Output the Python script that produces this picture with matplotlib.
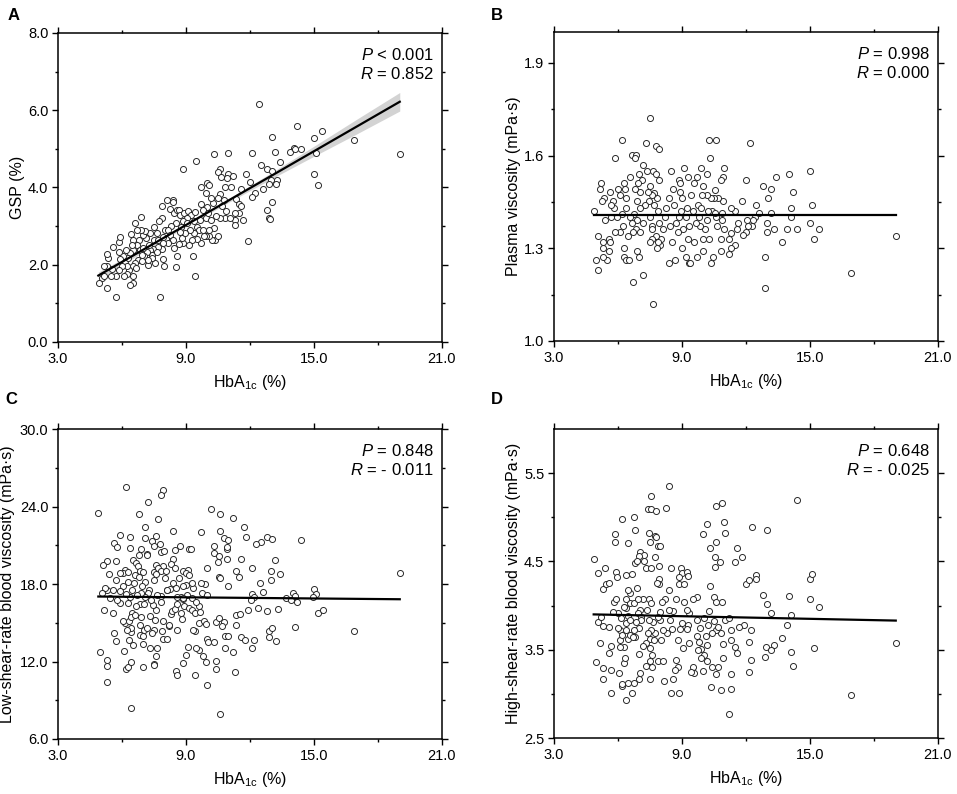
import matplotlib
matplotlib.use("Agg")
import matplotlib.pyplot as plt
import numpy as np

plt.rcParams['font.family'] = ['Liberation Sans', 'DejaVu Sans']
plt.rcParams['mathtext.fontset'] = 'custom'
plt.rcParams['mathtext.rm'] = 'Liberation Sans'
plt.rcParams['mathtext.it'] = 'Liberation Sans:italic'

# ---------------- Panel A: GSP vs HbA1c ----------------
a_x = [12.40, 14.19, 15.39, 13.01, 15.0, 16.89, 19.02, 15.10, 14.05, 13.87, 14.41, 14.1, 13.19, 13.40,
       15.0, 15.21, 12.10, 10.99, 10.29, 9.49, 8.88, 10.59, 10.52, 10.98, 11.18, 11.79, 12.51, 12.80,
       13.01, 12.97, 13.27, 13.21, 12.91, 12.62, 12.23, 12.1, 11.98, 13.01, 12.8, 12.9, 12.92, 11.9,
       11.6, 11.35, 11.47, 11.58, 11.69, 11.49, 11.30, 11.30, 11.1, 10.82, 10.9, 10.64, 10.59, 10.68,
       10.87, 10.85, 10.59, 10.4, 10.27, 10.29, 10.38, 10.21, 10.49, 10.06, 9.92, 9.70, 9.68, 9.70,
       9.99, 10.09, 9.93, 9.98, 9.79, 9.92, 9.65, 9.52, 9.6, 9.81, 9.37, 9.52, 9.3, 9.31, 9.42, 9.14,
       8.88, 8.79, 8.65, 8.59, 8.51, 8.46, 7.79, 7.98, 7.92, 7.57, 7.86, 7.68, 7.51, 7.32, 7.2, 8.01,
       7.87, 7.87, 8.09, 8.38, 8.40, 8.26, 8.46, 8.56, 8.68, 8.73, 8.9, 9.1, 9.24, 9.42, 9.04, 8.84,
       9.03, 8.78, 8.54, 8.32, 8.17, 8.25, 8.07, 7.9, 7.62, 7.71, 7.49, 7.75, 7.46, 7.31, 7.39, 7.16,
       7.04, 7.28, 7.12, 7.0, 7.1, 6.89, 6.89, 6.79, 6.68, 6.84, 6.92, 6.76, 6.93, 6.61, 6.53, 6.40,
       6.5, 6.45, 6.37, 6.29, 6.5, 6.34, 6.65, 6.5, 6.5, 6.39, 6.18, 6.06, 6.12, 6.23, 6.22, 6.09,
       5.9, 5.98, 5.84, 5.87, 5.89, 5.59, 5.72, 5.72, 5.54, 5.36, 5.28, 5.28, 5.31, 5.15, 5.05, 4.92,
       5.47, 5.17, 5.87, 6.70, 6.61, 11.06, 11.28, 10.77, 10.52, 10.16, 10.03, 10.19, 10.1, 9.85,
       9.37, 9.21, 8.95, 8.71, 8.40, 8.17, 7.93, 7.62, 7.39, 7.23, 7.0]
a_y = [6.15, 5.60, 5.46, 5.32, 5.28, 5.23, 4.88, 4.90, 5.02, 4.91, 4.99, 5.0, 4.92, 4.66,
       4.36, 4.07, 4.89, 4.89, 4.88, 4.69, 4.47, 4.48, 4.41, 4.36, 4.30, 4.36, 4.59, 4.47,
       4.44, 4.20, 4.20, 4.10, 4.09, 3.95, 3.87, 3.76, 4.13, 3.63, 3.41, 3.21, 3.19, 2.62,
       3.97, 3.71, 3.57, 3.51, 3.16, 3.34, 3.16, 3.03, 4.0, 4.0, 4.24, 4.26, 3.83, 3.53,
       3.40, 3.21, 3.21, 3.25, 3.59, 2.95, 2.63, 2.63, 2.74, 2.74, 2.74, 2.56, 3.58, 4.0,
       4.11, 4.06, 3.87, 3.49, 3.41, 3.21, 3.16, 2.99, 2.91, 2.91, 2.82, 2.67, 2.65, 2.22, 1.71, 2.51,
       2.56, 2.69, 2.53, 2.23, 1.94, 2.43, 1.16, 1.97, 2.15, 2.04, 2.42, 2.47, 2.65, 2.82, 1.99, 2.91,
       3.22, 3.53, 3.68, 3.68, 3.62, 3.44, 3.34, 3.42, 3.42, 3.28, 3.34, 3.38, 3.29, 3.36, 3.21, 3.12,
       3.08, 2.99, 3.09, 3.01, 2.91, 2.78, 2.66, 2.71, 2.82, 2.65, 2.99, 3.14, 2.42, 2.37, 2.26, 2.32,
       2.22, 2.52, 2.69, 2.78, 2.88, 2.89, 3.23, 2.65, 2.52, 2.39, 2.26, 2.13, 2.09, 2.04, 2.39, 2.79,
       2.65, 2.52, 2.30, 2.17, 1.96, 1.87, 1.91, 1.70, 1.54, 1.48, 2.39, 2.22, 2.04, 1.96, 1.76, 1.72,
       2.16, 1.96, 1.86, 2.60, 2.71, 2.47, 1.16, 1.72, 1.89, 2.17, 2.28, 1.41, 1.96, 1.96, 1.66, 1.54,
       1.72, 1.72, 2.32, 2.91, 3.08, 3.21, 3.34, 3.68, 3.74, 3.72, 3.34, 3.16, 2.91, 2.75,
       3.12, 2.91, 2.82, 2.86, 2.65, 2.56, 2.56, 2.32, 2.17, 2.13, 2.43]
a_fit_x = [4.89, 19.02]
a_fit_y = [1.72, 6.22]
a_ci_x = [4.89, 7.0, 9.0, 11.0, 13.0, 15.0, 17.0, 19.02]
a_ci_half = [0.09, 0.06, 0.045, 0.05, 0.08, 0.13, 0.19, 0.24]

# ---------------- Panel B: plasma viscosity ----------------
b_x = [7.49, 6.17, 7.30, 7.80, 7.91, 5.88, 6.66, 6.86, 6.79, 10.27, 10.59, 12.20, 10.29, 7.18, 7.38,
       7.66, 7.79, 7.91, 8.49, 9.10, 9.88, 10.99, 10.16, 9.72, 9.29, 8.86, 8.90, 9.58, 9.99, 10.93,
       10.85, 11.98, 14.0, 14.99, 13.40, 12.79, 13.18, 13.01, 14.2, 15.09, 14.09, 11.79, 12.49, 14.12,
       19.02, 16.9, 12.88, 12.90, 13.70, 13.90, 14.40, 13.29, 13.0, 13.0, 13.18, 14.99, 15.21, 15.40,
       12.43, 12.63, 12.34, 12.27, 12.09, 12.07, 12.02, 11.88, 11.63, 11.59, 11.30, 11.49, 11.30, 11.18,
       11.49, 11.30, 11.18, 10.96, 10.87, 10.84, 10.81, 10.89, 10.90, 10.71, 10.54, 10.52, 10.41, 10.59,
       10.63, 10.54, 10.46, 10.37, 10.36, 10.22, 10.19, 10.28, 10.15, 9.95, 10.10, 9.99, 9.99, 9.84,
       9.76, 9.88, 9.82, 9.66, 9.70, 9.58, 9.52, 9.40, 9.35, 9.23, 9.19, 9.30, 9.32, 9.38, 9.21, 9.06,
       8.99, 8.90, 8.99, 8.93, 8.85, 8.82, 8.74, 8.69, 8.61, 8.60, 8.46, 8.51, 8.38, 8.41, 8.27, 8.19,
       8.13, 8.01, 7.99, 7.86, 7.83, 7.80, 7.93, 7.86, 7.83, 7.68, 7.68, 7.60, 7.51, 7.44, 7.40, 7.52,
       7.58, 7.60, 7.51, 7.58, 7.63, 7.19, 6.68, 7.19, 7.27, 7.05, 7.02, 7.00, 7.11, 6.93, 6.78, 6.58,
       6.89, 6.91, 6.77, 6.84, 6.70, 7.05, 6.91, 7.0, 6.65, 6.55, 6.48, 6.38, 6.36, 6.30, 6.34, 6.27,
       6.30, 6.39, 6.50, 6.24, 6.17, 6.08, 6.11, 5.99, 5.94, 5.88, 5.83, 5.77, 5.68, 5.68, 5.60, 5.61,
       5.50, 5.58, 5.64, 5.41, 5.36, 5.27, 5.30, 5.30, 5.28, 5.18, 5.17, 5.08, 5.08, 4.99, 4.88]
b_y = [1.722, 1.651, 1.641, 1.632, 1.621, 1.591, 1.602, 1.602, 1.591, 1.651, 1.651, 1.641, 1.591, 1.571, 1.551,
       1.551, 1.542, 1.521, 1.551, 1.561, 1.561, 1.561, 1.542, 1.532, 1.532, 1.521, 1.511, 1.511, 1.502, 1.532,
       1.521, 1.521, 1.542, 1.551, 1.532, 1.502, 1.492, 1.462, 1.481, 1.441, 1.432, 1.452, 1.441, 1.401,
       1.340, 1.221, 1.170, 1.272, 1.322, 1.361, 1.361, 1.361, 1.352, 1.382, 1.414, 1.382, 1.331, 1.361,
       1.401, 1.414, 1.392, 1.371, 1.371, 1.392, 1.352, 1.342, 1.382, 1.361, 1.350, 1.422, 1.432, 1.331,
       1.312, 1.301, 1.282, 1.361, 1.392, 1.331, 1.291, 1.414, 1.452, 1.462, 1.490, 1.462, 1.422, 1.401,
       1.371, 1.414, 1.272, 1.251, 1.462, 1.422, 1.392, 1.331, 1.472, 1.472, 1.361, 1.291, 1.331, 1.371,
       1.441, 1.432, 1.401, 1.382, 1.271, 1.322, 1.422, 1.472, 1.371, 1.432, 1.401, 1.331, 1.251, 1.251, 1.271, 1.361,
       1.301, 1.481, 1.462, 1.422, 1.401, 1.352, 1.382, 1.261, 1.441, 1.492, 1.371, 1.322, 1.251, 1.462, 1.432, 1.401,
       1.361, 1.331, 1.312, 1.322, 1.301, 1.341, 1.382, 1.422, 1.462, 1.441, 1.479, 1.472, 1.502, 1.452, 1.481, 1.401,
       1.371, 1.331, 1.322, 1.361, 1.121, 1.212, 1.191, 1.382, 1.441, 1.432, 1.481, 1.542, 1.521, 1.511, 1.492, 1.532,
       1.452, 1.392, 1.411, 1.361, 1.352, 1.352, 1.291, 1.271, 1.382, 1.401, 1.341, 1.432, 1.462, 1.511, 1.492, 1.301,
       1.272, 1.261, 1.261, 1.371, 1.411, 1.352, 1.472, 1.492, 1.401, 1.352, 1.432, 1.452, 1.441, 1.401, 1.331, 1.481,
       1.261, 1.291, 1.322, 1.392, 1.462, 1.452, 1.301, 1.271, 1.322, 1.511, 1.492, 1.341, 1.231, 1.261, 1.422]
b_fit_x = [4.88, 19.02]
b_fit_y = [1.407, 1.407]

# ---------------- Panel C: low-shear-rate blood viscosity ----------------
c_x = [6.18, 7.90, 7.81, 7.20, 4.89, 6.81, 7.70, 10.18, 10.59, 11.20, 7.10, 8.39, 9.70, 10.59, 11.70,
       5.90, 6.39, 7.08, 7.58, 7.41, 10.77, 10.98, 11.81, 12.79, 13.01, 12.51, 12.29, 14.41, 5.61, 5.78,
       6.39, 6.90, 7.50, 7.80, 8.70, 9.15, 9.22, 10.29, 8.48, 7.84, 7.95, 10.29, 10.91, 10.91, 10.56,
       10.92, 11.60, 10.51, 7.18, 6.78, 7.18, 6.50, 5.70, 5.29, 5.09, 6.67, 6.73, 7.58, 7.90, 8.39,
       8.29, 8.49, 6.86, 7.0, 7.50, 6.14, 6.03, 6.28, 5.89, 5.39, 6.59, 6.78, 7.71, 7.82, 8.04, 8.01,
       7.60, 7.50, 8.84, 9.09, 9.01, 9.14, 8.65, 8.40, 8.10, 9.99, 10.57, 10.59, 10.99, 11.34, 11.50,
       12.09, 12.49, 12.99, 12.99, 13.19, 13.40, 12.60, 12.10, 12.21, 12.04, 12.38, 11.90, 12.79, 13.30,
       13.68, 13.93, 14.02, 14.13, 14.19, 14.11, 15.00, 15.08, 14.96, 15.21, 15.40, 16.89, 19.02, 4.99,
       5.29, 5.29, 5.29, 6.40, 10.59, 5.17, 5.59, 5.61, 5.70, 6.09, 6.17, 6.29, 6.40, 7.0, 7.48, 7.51,
       7.60, 7.62, 7.32, 7.0, 6.50, 6.31, 6.83, 6.99, 7.51, 7.40, 6.40, 6.40, 6.23, 6.12, 6.07, 6.34,
       6.45, 6.40, 6.62, 6.90, 7.01, 6.84, 7.18, 7.29, 7.56, 7.61, 7.43, 7.84, 7.90, 7.87, 7.93, 8.09,
       8.20, 8.21, 8.28, 8.36, 8.49, 8.57, 8.56, 8.51, 8.59, 8.88, 9.0, 9.10, 8.81, 8.78, 8.92, 8.88,
       8.76, 9.03, 9.26, 9.13, 9.28, 9.41, 9.59, 9.65, 9.45, 9.42, 9.61, 9.84, 9.92, 9.99, 10.01, 10.31,
       10.42, 10.54, 10.79, 10.70, 10.85, 10.98, 10.81, 11.34, 11.34, 11.52, 11.60, 11.78, 12.10, 12.21,
       11.20, 11.30, 10.40, 10.40, 9.92, 9.81, 9.59, 9.49, 9.41, 9.99, 9.31, 12.90, 12.90, 13.04, 13.20,
       9.74, 9.98, 9.87, 9.70, 9.35, 9.30, 9.0, 8.87, 8.51, 8.84, 8.59, 8.24, 8.09, 7.85, 7.62, 7.36,
       7.28, 7.21, 7.09, 7.06, 6.96, 6.91, 6.84, 6.65, 6.71, 6.57, 6.45, 6.37, 6.29, 6.18, 6.28, 6.06,
       5.90, 5.90, 5.75, 5.70, 5.56, 5.44, 5.28, 5.20, 5.08, 7.03]
c_y = [25.48, 25.27, 24.88, 24.34, 23.49, 23.41, 23.0, 23.77, 23.39, 23.08, 22.38, 22.09, 22.02, 22.09, 22.43,
       21.76, 21.65, 21.60, 21.68, 21.34, 21.60, 21.42, 21.65, 21.65, 21.45, 21.29, 21.09, 21.40, 21.16, 20.88,
       20.80, 20.70, 20.93, 21.11, 20.96, 20.73, 20.73, 20.96, 20.6, 20.49, 20.54, 20.41, 20.73, 20.90, 20.18,
       19.95, 19.95, 19.74, 20.36, 20.21, 20.21, 19.82, 19.79, 19.77, 19.48, 19.61, 19.41, 19.46, 19.36, 19.90,
       19.54, 19.23, 18.99, 18.94, 18.94, 19.05, 18.84, 18.94, 18.84, 18.76, 18.66, 18.55, 19.23, 18.97, 18.97, 18.50,
       18.74, 18.30, 19.02, 19.05, 18.84, 18.71, 18.48, 18.09, 17.57, 19.23, 18.55, 18.45, 17.88, 18.99, 18.53,
       19.23, 18.04, 18.99, 18.30, 19.82, 18.74, 17.37, 17.21, 17.03, 16.77, 16.13, 15.95, 15.92, 16.07,
       16.88, 16.75, 17.34, 17.06, 16.64, 14.65, 17.60, 17.24, 17.03, 15.79, 16.00, 14.34, 18.89, 12.72,
       12.15, 11.68, 10.39, 8.40, 7.91, 16.0, 15.79, 14.24, 13.57, 12.85, 11.45, 11.61, 11.99, 11.55, 11.79, 11.71,
       12.46, 13.05, 13.05, 13.36, 13.29, 13.67, 14.09, 13.98, 14.45, 14.19, 14.27, 14.58, 14.45, 14.96, 15.17, 15.17,
       15.79, 15.48, 15.61, 15.48, 14.45, 14.81, 14.63, 15.53, 15.22, 16.0, 16.38, 16.64, 15.14, 14.37, 13.72, 13.78,
       14.71, 14.81, 15.66, 15.92, 16.05, 16.46, 14.45, 11.30, 10.93, 11.86, 12.48, 13.10, 15.27, 15.74, 16.26, 16.82,
       17.03, 17.16, 16.90, 16.13, 16.00, 15.74, 16.26, 15.84, 16.59, 14.37, 14.96, 15.17, 14.91, 13.72, 13.49, 13.49,
       15.02, 15.40, 15.09, 14.76, 14.01, 14.01, 13.08, 14.83, 15.61, 15.66, 13.93, 13.67, 13.03, 13.67,
       12.72, 11.22, 12.02, 11.43, 11.99, 12.43, 12.90, 13.03, 10.93, 10.16, 14.45, 14.40, 13.88, 14.60, 13.62,
       17.31, 17.16, 18.01, 18.06, 17.68, 18.04, 17.96, 17.88, 17.68, 16.90, 17.03, 17.60, 17.55, 17.08, 17.16, 16.77,
       17.55, 17.29, 18.12, 17.03, 17.81, 17.34, 16.46, 16.26, 17.16, 18.06, 17.55, 17.03, 16.51, 17.21, 18.12, 17.88,
       17.42, 16.51, 16.77, 18.32, 17.55, 16.88, 17.55, 17.68, 17.29, 16.44]
c_fit_x = [4.89, 19.02]
c_fit_y = [17.03, 16.82]

# ---------------- Panel D: high-shear-rate blood viscosity ----------------
d_x = [8.38, 7.55, 8.27, 7.41, 7.57, 7.77, 10.88, 10.58, 14.40, 6.17, 6.77, 10.98, 10.18, 12.27, 12.99,
       6.78, 5.88, 5.88, 6.49, 9.99, 11.00, 7.46, 7.50, 7.72, 7.80, 7.87, 7.96, 10.58, 10.29, 11.60, 11.80,
       11.49, 10.56, 10.76, 10.54, 4.86, 5.08, 5.38, 5.30, 5.46, 5.58, 5.89, 5.97, 6.38, 6.66, 7.05, 7.21,
       6.98, 6.80, 6.91, 7.22, 7.30, 7.55, 7.72, 7.94, 7.94, 7.93, 7.85, 8.49, 8.97, 8.99, 9.22, 9.30, 8.88,
       8.86, 9.10, 10.30, 12.01, 12.12, 12.49, 12.49, 14.99, 15.11, 14.99, 15.40, 14.0, 12.79, 12.99, 13.18,
       14.09, 13.90, 13.68, 14.09, 14.18, 15.21, 19.02, 16.90, 12.96, 13.31, 13.18, 12.90, 12.22, 12.15,
       12.15, 12.22, 11.90, 11.66, 11.49, 11.59, 11.29, 11.30, 11.30, 11.30, 11.18, 10.81, 10.90, 10.92,
       10.84, 11.0, 11.18, 10.88, 10.49, 10.58, 10.27, 10.50, 10.60, 10.69, 10.40, 10.68, 10.58, 10.38,
       10.41, 10.19, 10.23, 10.01, 10.13, 10.15, 10.01, 9.98, 9.87, 9.90, 9.82, 9.85, 9.69, 9.68, 9.50,
       9.69, 9.74, 9.58, 9.50, 9.43, 9.33, 9.23, 9.11, 9.27, 9.22, 9.07, 9.32, 8.99, 8.89, 8.79, 8.88,
       8.80, 8.74, 8.65, 8.57, 8.49, 8.72, 8.60, 8.46, 8.52, 8.38, 8.30, 8.38, 8.22, 8.07, 7.97, 7.99,
       8.11, 8.0, 7.86, 8.11, 8.17, 7.86, 7.75, 7.63, 7.55, 7.52, 7.68, 7.50, 7.59, 7.49, 7.58, 7.49,
       7.30, 7.30, 7.40, 7.43, 7.34, 7.43, 7.57, 7.18, 7.05, 6.93, 7.10, 7.00, 7.10, 6.86, 7.16, 7.0,
       7.01, 7.0, 6.77, 6.67, 6.49, 6.39, 6.19, 6.17, 6.07, 6.27, 6.32, 6.27, 6.08, 6.11, 6.10, 6.21,
       6.46, 6.57, 6.39, 6.36, 6.46, 6.54, 6.77, 6.80, 6.71, 6.39, 6.57, 6.55, 6.49, 6.38, 6.30, 6.14,
       5.99, 5.99, 5.83, 5.91, 5.75, 5.60, 5.67, 5.60, 5.67, 5.67, 5.30, 5.30, 4.99, 5.17, 5.08, 5.21,
       5.31, 6.91, 6.74, 6.93]
d_y = [5.357, 5.236, 5.108, 5.096, 5.096, 5.074, 5.164, 5.130, 5.194, 4.975, 5.006, 4.945, 4.923, 4.885, 4.855,
       4.855, 4.806, 4.723, 4.711, 4.809, 4.825, 4.817, 4.723, 4.787, 4.772, 4.674, 4.674, 4.723, 4.655, 4.655, 4.545,
       4.489, 4.545, 4.489, 4.440, 4.523, 4.372, 4.421, 4.187, 4.243, 4.258, 4.379, 4.323, 4.349, 4.357, 4.602, 4.572,
       4.557, 4.485, 4.508, 4.504, 4.421, 4.421, 4.545, 4.451, 4.296, 4.240, 4.258, 4.421, 4.428, 4.372, 4.379, 4.338, 4.323,
       4.240, 4.240, 4.221, 4.240, 4.289, 4.345, 4.296, 4.296, 4.353, 4.074, 3.983, 4.111, 4.123, 4.013, 3.911,
       3.892, 3.779, 3.632, 3.470, 3.315, 3.515, 3.572, 2.983, 3.526, 3.549, 3.496, 3.421, 3.383, 3.243,
       3.583, 3.726, 3.779, 3.760, 3.534, 3.466, 3.723, 3.609, 3.221, 3.051, 2.772, 3.043, 3.409, 3.564,
       3.692, 3.840, 3.862, 4.043, 4.092, 4.043, 3.942, 3.825, 3.723, 3.760, 3.685, 3.308, 3.225, 3.081,
       3.300, 3.372, 3.779, 3.855, 3.658, 3.553, 3.443, 3.262, 3.402, 3.504, 3.591, 3.749, 3.651, 4.092, 4.070,
       3.836, 3.496, 3.240, 3.308, 3.251, 3.911, 3.949, 4.043, 3.779, 3.730, 3.515, 3.579, 3.798, 3.738, 3.609, 3.006,
       3.308, 3.383, 3.270, 3.164, 3.006, 4.070, 3.942, 3.836, 3.730, 3.949, 3.685, 4.175, 4.070, 4.043, 3.930, 3.836,
       3.723, 3.609, 3.372, 3.372, 3.145, 3.874, 3.685, 3.809, 3.723, 3.621, 3.609, 3.515, 3.440, 3.372, 3.308, 3.164,
       3.315, 3.579, 3.685, 3.836, 3.949, 4.074, 4.025, 4.070, 3.949, 3.911, 3.874, 3.742, 3.836, 3.817, 3.545, 3.451,
       3.240, 3.172, 3.119, 3.006, 3.119, 2.930, 3.089, 3.108, 3.240, 3.345, 3.409, 3.526, 3.534, 3.609, 3.723, 3.666,
       3.625, 3.666, 3.723, 3.798, 3.881, 3.836, 3.723, 3.647, 3.640, 3.975, 4.032, 4.138, 4.175, 4.070, 3.987, 3.855,
       3.911, 3.749, 4.043, 4.074, 3.923, 3.760, 3.545, 3.466, 3.270, 3.013, 3.164, 3.296, 3.364, 3.572, 3.817, 3.874,
       3.772, 4.194, 4.025, 4.070]
d_fit_x = [4.86, 19.02]
d_fit_y = [3.90, 3.83]

# ---------------- Text ----------------
x_label = 'HbA$_{\\mathregular{1c}}$ (%)'
ylabels = ['GSP (%)', 'Plasma viscosity (mPa·s)',
           'Low-shear-rate blood viscosity (mPa·s)', 'High-shear-rate blood viscosity (mPa·s)']
stats = [('$\\mathit{P}$ < 0.001', '$\\mathit{R}$ = 0.852'),
         ('$\\mathit{P}$ = 0.998', '$\\mathit{R}$ = 0.000'),
         ('$\\mathit{P}$ = 0.848', '$\\mathit{R}$ = - 0.011'),
         ('$\\mathit{P}$ = 0.648', '$\\mathit{R}$ = - 0.025')]
letters = ['A', 'B', 'C', 'D']
x_ticks = [3.0, 9.0, 15.0, 21.0]
y_ticks = [[0.0, 2.0, 4.0, 6.0, 8.0], [1.0, 1.3, 1.6, 1.9], [6.0, 12.0, 18.0, 24.0, 30.0], [2.5, 3.5, 4.5, 5.5]]
y_minor = [[1.0, 3.0, 5.0, 7.0], [1.15, 1.45, 1.75], [9.0, 15.0, 21.0, 27.0], [3.0, 4.0, 5.0]]
y_lims = [(0.0, 8.0), (1.0, 2.0), (6.0, 30.0), (2.5, 6.0)]
y_fmt = ['%.1f', '%.1f', '%.1f', '%.1f']

fig = plt.figure(figsize=(9.57, 7.94), dpi=100)
W, H = 957, 794
boxes = [(58, 33, 442, 342), (554, 32, 938, 341), (58, 429, 442, 739), (554, 429, 938, 738)]
axes = []
for (l, t, r, b) in boxes:
    axes.append(fig.add_axes([l / W, 1 - b / H, (r - l) / W, (b - t) / H]))

data = [(a_x, a_y, a_fit_x, a_fit_y), (b_x, b_y, b_fit_x, b_fit_y),
        (c_x, c_y, c_fit_x, c_fit_y), (d_x, d_y, d_fit_x, d_fit_y)]
ylabel_pads = [2, 2, 3, 2]

for i, ax in enumerate(axes):
    xs, ys, fx, fy = data[i]
    if i == 0:
        slope = (fy[1] - fy[0]) / (fx[1] - fx[0])
        cx = np.array(a_ci_x)
        cy = fy[0] + slope * (cx - fx[0])
        hw = np.array(a_ci_half)
        ax.fill_between(cx, cy - hw, cy + hw, color='#d3d3d3', lw=0, zorder=1)
    ax.scatter(xs, ys, s=19, facecolors='white', edgecolors='#2a2a2a', linewidths=0.7, zorder=2)
    ax.plot(fx, fy, color='black', lw=1.6, zorder=3)
    ax.set_xlim(3.0, 21.0)
    ax.set_ylim(*y_lims[i])
    ax.set_xticks(x_ticks)
    ax.set_xticks([6.0, 12.0, 18.0], minor=True)
    ax.set_xticklabels(['%.1f' % v for v in x_ticks])
    ax.set_yticks(y_ticks[i])
    ax.set_yticks(y_minor[i], minor=True)
    ax.set_yticklabels([y_fmt[i] % v for v in y_ticks[i]])
    ax.tick_params(which='both', direction='out', top=True, right=True, width=1.0,
                   labelsize=10.5, colors='black')
    ax.tick_params(which='major', length=4, pad=3)
    ax.tick_params(which='minor', length=2.5)
    for s in ax.spines.values():
        s.set_linewidth(1.1)
    ax.set_xlabel(x_label, fontsize=11.5, labelpad=5)
    ax.set_ylabel(ylabels[i], fontsize=11.5, labelpad=ylabel_pads[i])
    p, r = stats[i]
    ax.text(0.978, 0.955, p + '\n' + r, transform=ax.transAxes, ha='right', va='top',
            fontsize=12, linespacing=1.25)

letter_pos = [(8, 8), (491, 8), (5, 392), (491, 392)]
for L, (x, y) in zip(letters, letter_pos):
    fig.text(x / W, 1 - y / H, L, fontsize=12, fontweight='bold', ha='left', va='top')

fig.savefig('out.png', dpi=100)
